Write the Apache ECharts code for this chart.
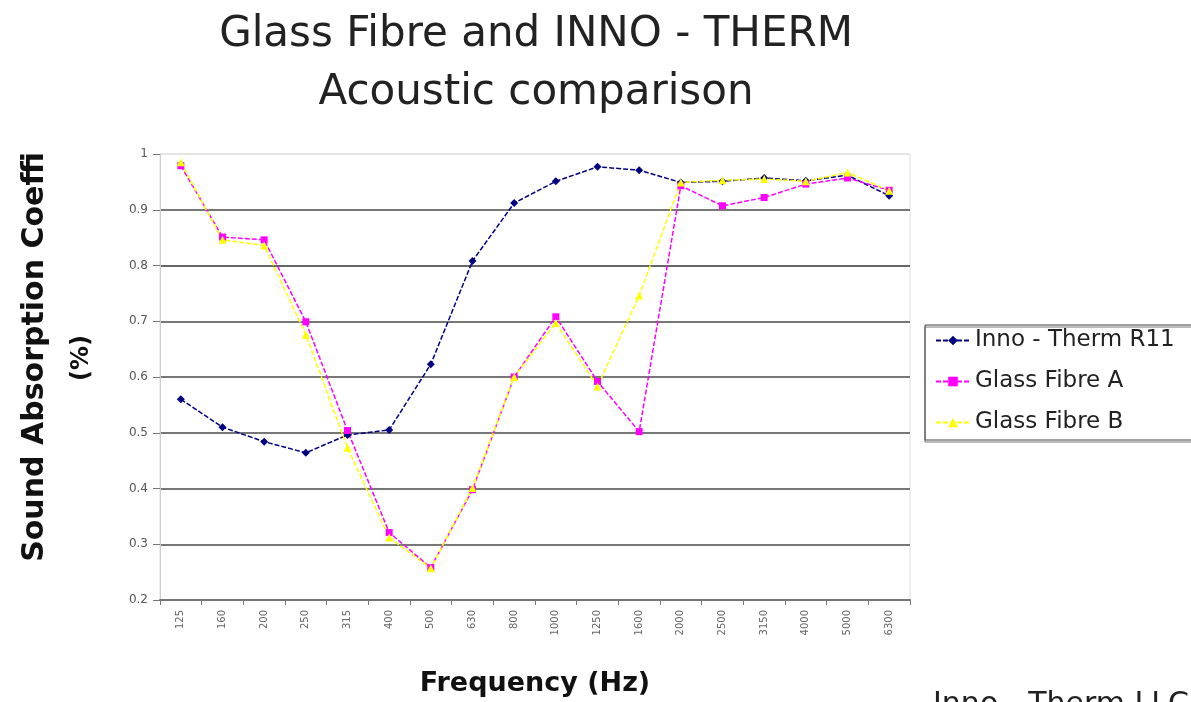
<!DOCTYPE html>
<html>
<head>
<meta charset="utf-8">
<script src="https://cdn.jsdelivr.net/npm/echarts@6/dist/echarts.min.js"></script>
<style>
  html, body { margin: 0; padding: 0; background: #fff; }
  #main { width: 1191px; height: 702px; }
</style>
</head>
<body>
<div id="main"></div>
<script>
// third-octave bands
const frequencies = ['125', '160', '200', '250', '315', '400', '500', '630', '800', '1000',
  '1250', '1600', '2000', '2500', '3150', '4000', '5000', '6300'];

const innoTherm = [0.560, 0.510, 0.484, 0.464, 0.496, 0.505, 0.623, 0.808, 0.912, 0.951,
  0.977, 0.971, 0.949, 0.951, 0.957, 0.952, 0.962, 0.925];
const glassFibreA = [0.979, 0.851, 0.846, 0.699, 0.504, 0.321, 0.258, 0.398, 0.600, 0.708,
  0.592, 0.502, 0.943, 0.907, 0.922, 0.946, 0.957, 0.935];
const glassFibreB = [0.985, 0.846, 0.836, 0.676, 0.473, 0.312, 0.257, 0.401, 0.600, 0.697,
  0.583, 0.746, 0.949, 0.953, 0.955, 0.951, 0.967, 0.934];

const seriesNames = ['Inno - Therm R11', 'Glass Fibre A', 'Glass Fibre B'];

const chart = echarts.init(document.getElementById('main'));

function lineSeries(name, data, color, symbol, size) {
  return {
    name: name,
    type: 'line',
    data: data,
    symbol: symbol,
    symbolSize: size,
    showSymbol: true,
    itemStyle: { color: color },
    lineStyle: { color: color, width: 1.5, type: [5, 2] },
    emphasis: { disabled: true }
  };
}

const option = {
  animation: false,
  textStyle: { fontFamily: 'DejaVu Sans' },
  title: {
    text: 'Glass Fibre and INNO - THERM\nAcoustic comparison',
    left: 531,
    top: 1,
    textAlign: 'center',
    textStyle: { fontSize: 42, fontWeight: 'normal', color: '#222', lineHeight: 58, fontFamily: 'DejaVu Sans' }
  },
  legend: {
    data: seriesNames,
    orient: 'vertical',
    left: 925,
    top: 325,
    padding: [4, 40, 6, 10],
    itemGap: 18,
    itemWidth: 34,
    itemHeight: 12,
    borderColor: '#444',
    borderWidth: 1,
    shadowColor: '#777',
    shadowOffsetY: 2,
    shadowBlur: 0,
    textStyle: { fontSize: 23, color: '#222', lineHeight: 22 }
  },
  grid: {
    left: 160,
    right: 281,
    top: 154,
    bottom: 101,
    show: true,
    borderColor: '#ddd',
    borderWidth: 1
  },
  xAxis: {
    type: 'category',
    data: frequencies,
    boundaryGap: true,
    name: 'Frequency (Hz)',
    nameLocation: 'middle',
    nameGap: 70,
    nameTextStyle: { fontSize: 27, fontWeight: 'bold', color: '#111' },
    axisLine: { lineStyle: { color: '#777', width: 2 } },
    axisTick: { show: true, length: 5, lineStyle: { color: '#777' } },
    axisLabel: { rotate: 90, fontSize: 10, color: '#666', margin: 10 }
  },
  yAxis: {
    type: 'value',
    min: 0.2,
    max: 1,
    interval: 0.1,
    axisLine: { show: true, lineStyle: { color: '#ccc', width: 1 } },
    axisTick: { show: true, length: 7, lineStyle: { color: '#777' } },
    axisLabel: { fontSize: 12, color: '#555', margin: 12,
      formatter: function (v) { return String(Math.round(v * 10) / 10); } },
    splitLine: {
      show: true,
      lineStyle: { color: ['#777', '#777', '#777', '#777', '#777', '#777', '#666', '#777', '#e4e4e4'], width: 2 }
    }
  },
  graphic: [
    {
      type: 'text',
      x: 35,
      y: 357,
      rotation: Math.PI / 2,
      style: { text: 'Sound Absorption Coeffi', fontSize: 30, fontWeight: 'bold', fill: '#111',
        fontFamily: 'DejaVu Sans', align: 'center', verticalAlign: 'middle' }
    },
    {
      type: 'text',
      x: 82,
      y: 358,
      rotation: Math.PI / 2,
      style: { text: '(%)', fontSize: 24, fontWeight: 'bold', fill: '#111',
        fontFamily: 'DejaVu Sans', align: 'center', verticalAlign: 'middle' }
    },
    {
      type: 'text',
      left: 933,
      top: 690,
      style: { text: 'Inno - Therm LLC', fontSize: 30, fill: '#222', fontFamily: 'DejaVu Sans' }
    }
  ],
  series: [
    lineSeries(seriesNames[0], innoTherm, '#000080', 'diamond', 8),
    lineSeries(seriesNames[1], glassFibreA, '#ff00ff', 'rect', 7),
    lineSeries(seriesNames[2], glassFibreB, '#ffff00', 'triangle', 8)
  ]
};

chart.setOption(option);
</script>
</body>
</html>
